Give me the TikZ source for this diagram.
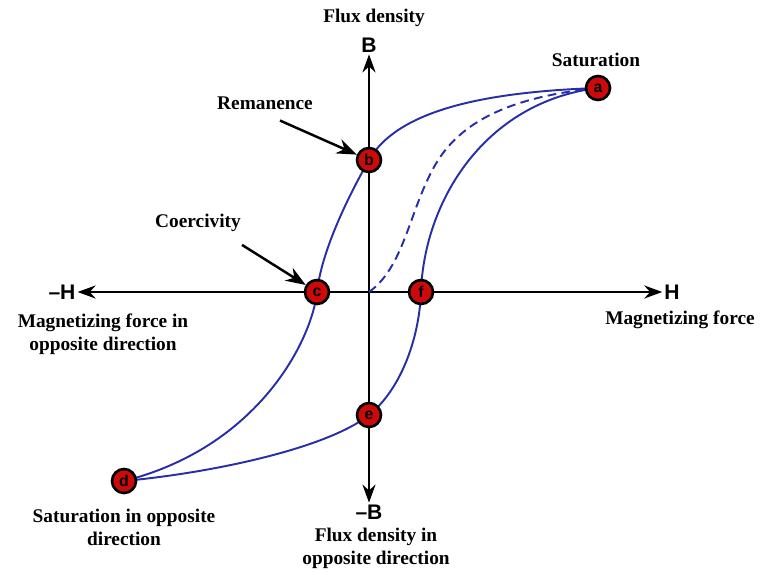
\documentclass[tikz,border=0pt]{standalone}
\usepackage{fontspec}
\setmainfont{Liberation Serif}
\setsansfont{Liberation Sans}
\usepackage{xcolor}
\usepackage{tikz}
\usetikzlibrary{arrows.meta}
\definecolor{loopblue}{RGB}{40,45,170}
\definecolor{ptred}{RGB}{205,10,10}
\tikzset{
  axis/.style={line width=1.3pt,{Stealth[length=3.6mm,width=2.6mm]}-{Stealth[length=3.6mm,width=2.6mm]}},
  loop/.style={loopblue,line width=1.1pt},
  virgin/.style={loopblue,line width=1.1pt,dash pattern=on 5pt off 3pt},
  pt/.style={circle,fill=ptred,draw=black,line width=1.5pt,minimum size=4.8mm,inner sep=0pt,font=\sffamily\bfseries\small},
  lbl/.style={font=\fontsize{11}{13}\selectfont\bfseries,align=center,inner sep=1pt},
  axlbl/.style={font=\sffamily\bfseries\large,inner sep=1pt},
  pointer/.style={line width=1.4pt,-{Stealth[length=4mm,width=3mm]}}
}
\begin{document}
\begin{tikzpicture}
\useasboundingbox (-7.38,-5.64) rectangle (7.84,5.84);
% points of the loop
\coordinate (o) at (0,0);
\coordinate (pa) at (4.58,4.08);
\coordinate (pb) at (0,2.64);
\coordinate (pc) at (-1.04,0);
\coordinate (pd) at (-4.9,-3.78);
\coordinate (pe) at (0,-2.46);
\coordinate (pf) at (1.04,0);
% axes
\node[axlbl] (mH) at (-6.14,0) {--H};
\node[axlbl] (pH) at (6.06,0) {H};
\node[axlbl] (pB) at (0,4.94) {B};
\node[axlbl] (mB) at (0,-4.4) {--B};
\draw[axis] (mH) -- (pH);
\draw[axis] (mB) -- (pB);
% hysteresis loop
\draw[loop] (pa) .. controls (2.2,4.0) and (0.55,3.6) .. (pb)
  .. controls (-0.45,1.85) and (-0.95,0.8) .. (pc)
  .. controls (-1.14,-0.95) and (-2.2,-3.1) .. (pd);
\draw[loop] (pd) .. controls (-3,-3.6) and (-0.8,-3.1) .. (pe)
  .. controls (0.6,-1.98) and (1.0,-1.0) .. (pf)
  .. controls (1.1,1.8) and (2.3,3.8) .. (pa);
\draw[virgin] (o) .. controls (0.7,0.5) and (0.8,1.6) .. (1.3,2.5)
  .. controls (1.8,3.4) and (2.8,3.9) .. (pa);
% marked points
\node[pt] (a) at (pa) {a};
\node[pt] (b) at (pb) {b};
\node[pt] (c) at (pc) {c};
\node[pt] (d) at (pd) {d};
\node[pt] (e) at (pe) {e};
\node[pt] (f) at (pf) {f};
% labels
\node[lbl] (flux) at (0.1,5.48) {Flux density};
\node[lbl] (sat) at (4.54,4.64) {Saturation};
\node[lbl] (rem) at (-2.08,3.78) {Remanence};
\node[lbl] (coer) at (-3.42,1.38) {Coercivity};
\node[lbl] (mforce) at (-5.32,-0.84) {Magnetizing force in\\opposite direction};
\node[lbl] (force) at (6.22,-0.56) {Magnetizing force};
\node[lbl] (satopp) at (-4.9,-4.7) {Saturation in opposite\\direction};
\node[lbl] (fluxopp) at (0.14,-5.12) {Flux density in\\opposite direction};
\draw[pointer] ([xshift=0.3cm,yshift=-0.18cm]rem.south) -- (b);
\draw[pointer] ([xshift=0.88cm,yshift=-0.22cm]coer.south) -- (c);
\end{tikzpicture}
\end{document}
